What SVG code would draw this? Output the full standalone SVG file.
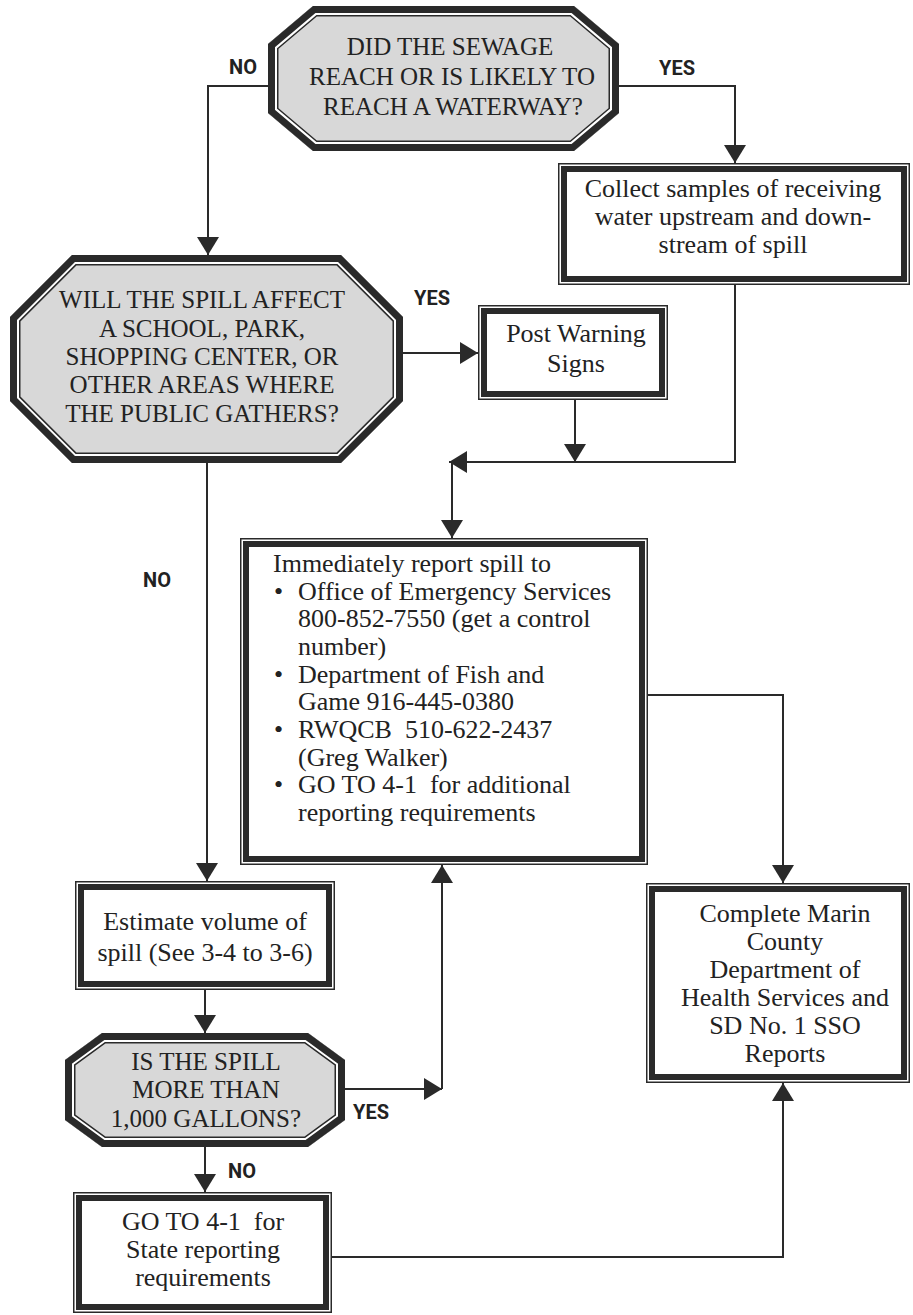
<svg xmlns="http://www.w3.org/2000/svg" xmlns:xlink="http://www.w3.org/1999/xlink" width="913" height="1315" viewBox="0 0 913 1315">
<style>
.of{fill:#d8d8d8}
.ob1{fill:none;stroke:#2a2a2a;stroke-width:21;stroke-linejoin:miter}
.ob2{fill:none;stroke:#ffffff;stroke-width:18;stroke-linejoin:miter}
.ob3{fill:none;stroke:#2a2a2a;stroke-width:14;stroke-linejoin:miter}
.bo{fill:#fff;stroke:#2a2a2a;stroke-width:1.5}
.bi{fill:none;stroke:#2a2a2a;stroke-width:6}
.cap{font-family:"Liberation Serif","Times New Roman",serif;font-size:25px;fill:#222;text-anchor:middle}
.txt{font-family:"Liberation Serif","Times New Roman",serif;font-size:26px;fill:#222}
.mid{text-anchor:middle}
.lbl{font-family:Roboto,"Liberation Sans",sans-serif;font-weight:700;font-size:20px;fill:#222;text-anchor:middle}
.pre{white-space:pre}
.con{fill:none;stroke:#2a2a2a;stroke-width:2}
</style>
<defs>
<marker id="ah" viewBox="0 0 18 22" refX="18" refY="11" markerWidth="18" markerHeight="22" markerUnits="userSpaceOnUse" orient="auto"><path d="M0,0 L18,11 L0,22 z" fill="#2a2a2a"/></marker>
<polygon id="p1" points="313,6 574,6 619,44 619,113 574,151 313,151 268,113 268,44"/>
<polygon id="p2" points="72,255 341,255 403,317 403,401 341,463 72,463 10,401 10,317"/>
<polygon id="p3" points="102,1033 308,1033 345,1060 345,1120 308,1147 102,1147 65,1120 65,1060"/>
<clipPath id="c1"><use xlink:href="#p1"/></clipPath>
<clipPath id="c2"><use xlink:href="#p2"/></clipPath>
<clipPath id="c3"><use xlink:href="#p3"/></clipPath>
</defs>
<rect width="913" height="1315" fill="#ffffff"/>

<g id="connectors">
<path class="con" d="M268,86 H208 V255" marker-end="url(#ah)"/>
<path class="con" d="M619,86 H735 V163" marker-end="url(#ah)"/>
<path class="con" d="M403,353 H478" marker-end="url(#ah)"/>
<path class="con" d="M575,400 V462" marker-end="url(#ah)"/>
<path class="con" d="M735,285 V462 H449" marker-end="url(#ah)"/>
<path class="con" d="M452,462 V538" marker-end="url(#ah)"/>
<path class="con" d="M207,463 V881" marker-end="url(#ah)"/>
<path class="con" d="M205,990 V1033" marker-end="url(#ah)"/>
<path class="con" d="M345,1089 H442" marker-end="url(#ah)"/>
<path class="con" d="M442,1089 V865" marker-end="url(#ah)"/>
<path class="con" d="M205,1147 V1192" marker-end="url(#ah)"/>
<path class="con" d="M648,695 H783 V883" marker-end="url(#ah)"/>
<path class="con" d="M332,1257 H783 V1083" marker-end="url(#ah)"/>
<text class="lbl" x="243" y="74">NO</text>
<text class="lbl" x="677" y="75">YES</text>
<text class="lbl" x="432" y="305">YES</text>
<text class="lbl" x="157" y="587">NO</text>
<text class="lbl" x="371" y="1119">YES</text>
<text class="lbl" x="242" y="1178">NO</text>
</g>

<g id="q-waterway">
<g clip-path="url(#c1)">
<use xlink:href="#p1" class="of"/><use xlink:href="#p1" class="ob1"/><use xlink:href="#p1" class="ob2"/><use xlink:href="#p1" class="ob3"/>
</g>
<text class="cap" x="450" y="55">DID THE SEWAGE</text>
<text class="cap" x="452" y="85">REACH OR IS LIKELY TO</text>
<text class="cap" x="453" y="115">REACH A WATERWAY?</text>
</g>

<g id="collect-samples">
<rect class="bo" x="558.75" y="163.75" width="350.5" height="120.5"/>
<rect class="bi" x="564" y="169" width="340" height="110"/>
<text class="txt mid" x="733" y="197">Collect samples of receiving</text>
<text class="txt mid" x="733" y="225">water upstream and down-</text>
<text class="txt mid" x="733" y="253">stream of spill</text>
</g>

<g id="q-public">
<g clip-path="url(#c2)">
<use xlink:href="#p2" class="of"/><use xlink:href="#p2" class="ob1"/><use xlink:href="#p2" class="ob2"/><use xlink:href="#p2" class="ob3"/>
</g>
<text class="cap" x="202" y="308">WILL THE SPILL AFFECT</text>
<text class="cap" x="202" y="337">A SCHOOL, PARK,</text>
<text class="cap" x="202" y="365">SHOPPING CENTER, OR</text>
<text class="cap" x="202" y="393">OTHER AREAS WHERE</text>
<text class="cap" x="202" y="422">THE PUBLIC GATHERS?</text>
</g>

<g id="post-signs">
<rect class="bo" x="478.75" y="305.75" width="188.5" height="93.5"/>
<rect class="bi" x="484" y="311" width="178" height="83"/>
<text class="txt mid" x="576" y="342">Post Warning</text>
<text class="txt mid" x="576" y="372">Signs</text>
</g>

<g id="report-spill">
<rect class="bo" x="240.75" y="538.75" width="406.5" height="325.5"/>
<rect class="bi" x="246" y="544" width="396" height="315"/>
<text class="txt" x="273" y="572">Immediately report spill to</text>
<text class="txt" x="274" y="600">•</text>
<text class="txt" x="298" y="600">Office of Emergency Services</text>
<text class="txt" x="298" y="627">800-852-7550 (get a control</text>
<text class="txt" x="298" y="655">number)</text>
<text class="txt" x="274" y="683">•</text>
<text class="txt" x="298" y="683">Department of Fish and</text>
<text class="txt" x="298" y="710">Game 916-445-0380</text>
<text class="txt" x="274" y="738">•</text>
<text class="txt pre" x="298" y="738">RWQCB  510-622-2437</text>
<text class="txt" x="298" y="766">(Greg Walker)</text>
<text class="txt" x="274" y="793">•</text>
<text class="txt pre" x="298" y="793">GO TO 4-1  for additional</text>
<text class="txt" x="298" y="821">reporting requirements</text>
</g>

<g id="estimate-volume">
<rect class="bo" x="75.75" y="881.75" width="258.5" height="107.5"/>
<rect class="bi" x="81" y="887" width="248" height="97"/>
<text class="txt mid" x="205" y="930">Estimate volume of</text>
<text class="txt mid" x="205" y="961">spill (See 3-4 to 3-6)</text>
</g>

<g id="complete-reports">
<rect class="bo" x="646.75" y="883.75" width="262.5" height="198.5"/>
<rect class="bi" x="652" y="889" width="252" height="188"/>
<text class="txt mid" x="785" y="922">Complete Marin</text>
<text class="txt mid" x="785" y="950">County</text>
<text class="txt mid" x="785" y="978">Department of</text>
<text class="txt mid" x="785" y="1006">Health Services and</text>
<text class="txt mid" x="785" y="1034">SD No. 1 SSO</text>
<text class="txt mid" x="785" y="1062">Reports</text>
</g>

<g id="q-gallons">
<g clip-path="url(#c3)">
<use xlink:href="#p3" class="of"/><use xlink:href="#p3" class="ob1"/><use xlink:href="#p3" class="ob2"/><use xlink:href="#p3" class="ob3"/>
</g>
<text class="cap" x="206" y="1070">IS THE SPILL</text>
<text class="cap" x="206" y="1098">MORE THAN</text>
<text class="cap" x="206" y="1127">1,000 GALLONS?</text>
</g>

<g id="goto-state">
<rect class="bo" x="73.75" y="1192.75" width="257.5" height="119.5"/>
<rect class="bi" x="79" y="1198" width="247" height="109"/>
<text class="txt mid pre" x="203" y="1230">GO TO 4-1  for</text>
<text class="txt mid" x="203" y="1258">State reporting</text>
<text class="txt mid" x="203" y="1286">requirements</text>
</g>
</svg>
